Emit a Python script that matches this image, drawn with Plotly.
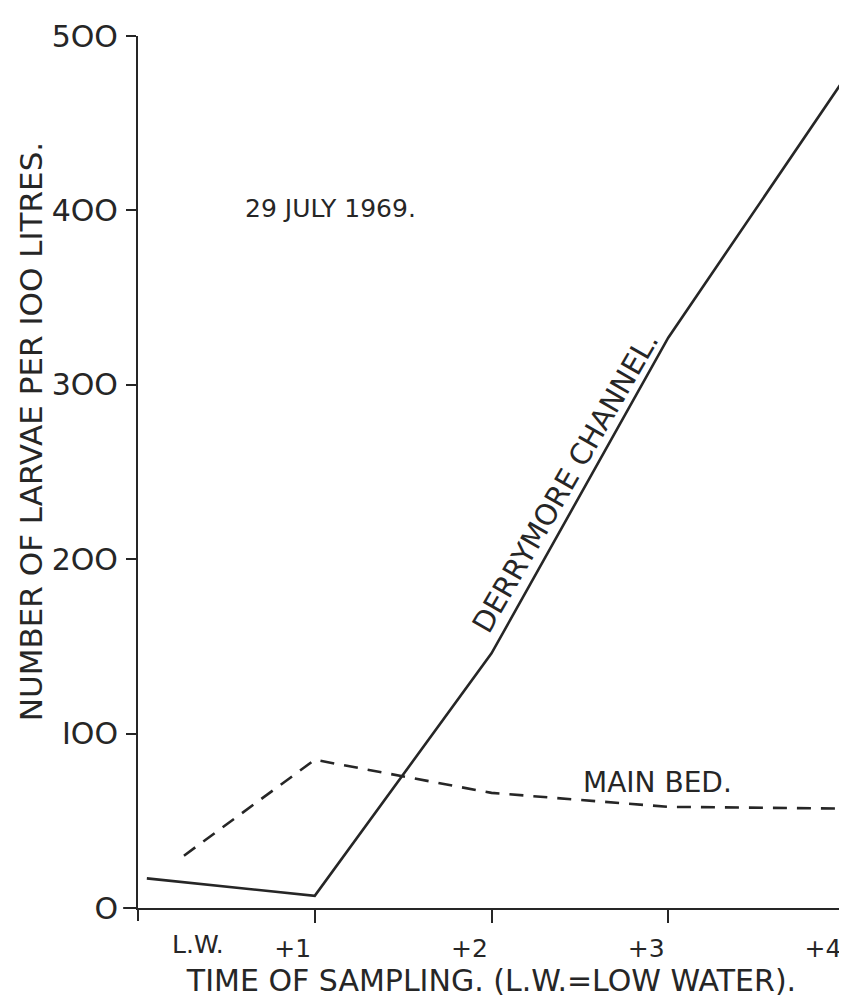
import plotly.graph_objects as go

# Time of sampling (hours after low water)
derrymore_time = [0.05, 1.0, 2.0, 3.0, 4.0]
derrymore_larvae = [17, 7, 146, 327, 476]

mainbed_time = [0.26, 1.0, 2.0, 3.0, 4.0]
mainbed_larvae = [30, 85, 66, 58, 57]

x_tickvals = [1, 2, 3, 4]
x_ticktext = ["+1", "+2", "+3", "+4"]
y_tickvals = [0, 100, 200, 300, 400, 500]
y_ticktext = ["O", "IOO", "2OO", "3OO", "4OO", "5OO"]

INK = "#262626"
FONT = "DejaVu Sans"

fig = go.Figure()
fig.add_trace(go.Scatter(
    x=derrymore_time, y=derrymore_larvae, mode="lines",
    line=dict(color=INK, width=2.6), name="Derrymore Channel",
    showlegend=False,
))
fig.add_trace(go.Scatter(
    x=mainbed_time, y=mainbed_larvae, mode="lines",
    line=dict(color=INK, width=2.6, dash="14px,10px"), name="Main Bed",
    showlegend=False,
))

fig.update_layout(
    width=847, height=1002,
    margin=dict(l=130, r=10, t=20, b=102),
    paper_bgcolor="white", plot_bgcolor="white",
    font=dict(family=FONT, color=INK, size=26),
    xaxis=dict(
        range=[0, 4.0], showgrid=False, zeroline=False,
        showline=True, linecolor=INK, linewidth=2,
        tickmode="array", tickvals=x_tickvals, ticktext=x_ticktext,
        ticks="outside", ticklen=13, tickwidth=2, tickcolor=INK,
        ticklabelshift=-22, ticklabelstandoff=4,
        tickfont=dict(size=25),
        title=dict(text="TIME OF SAMPLING. (L.W.=LOW WATER).",
                   font=dict(size=30), standoff=1),
    ),
    yaxis=dict(
        range=[0, 500], showgrid=False, zeroline=False,
        showline=True, linecolor=INK, linewidth=2,
        tickmode="array", tickvals=y_tickvals, ticktext=y_ticktext,
        ticks="outside", ticklen=10, tickwidth=2, tickcolor=INK,
        ticklabelstandoff=2,
        tickfont=dict(size=30),
    ),
    shapes=[
        dict(type="line", xref="paper", yref="paper", x0=-0.021, x1=0,
             y0=0, y1=0, line=dict(color=INK, width=2)),
        dict(type="line", xref="paper", yref="paper", x0=0, x1=0,
             y0=0, y1=-0.015, line=dict(color=INK, width=2)),
    ],
)

fig.add_annotation(xref="paper", x=-0.151, xanchor="center",
                   y=273, yref="y", yanchor="middle",
                   text="NUMBER OF LARVAE PER IOO LITRES.", textangle=-90,
                   showarrow=False, font=dict(size=31))
fig.add_annotation(x=0.34, y=0, yref="y", yshift=-36, text="L.W.",
                   showarrow=False, font=dict(size=25))
fig.add_annotation(x=1.09, y=401, text="29 JULY 1969.",
                   showarrow=False, font=dict(size=25))
fig.add_annotation(x=2.42, y=244, text="DERRYMORE CHANNEL.",
                   textangle=-60, showarrow=False, font=dict(size=29))
fig.add_annotation(x=2.94, y=72, text="MAIN BED.",
                   showarrow=False, font=dict(size=28))

fig.write_html("out.html")
